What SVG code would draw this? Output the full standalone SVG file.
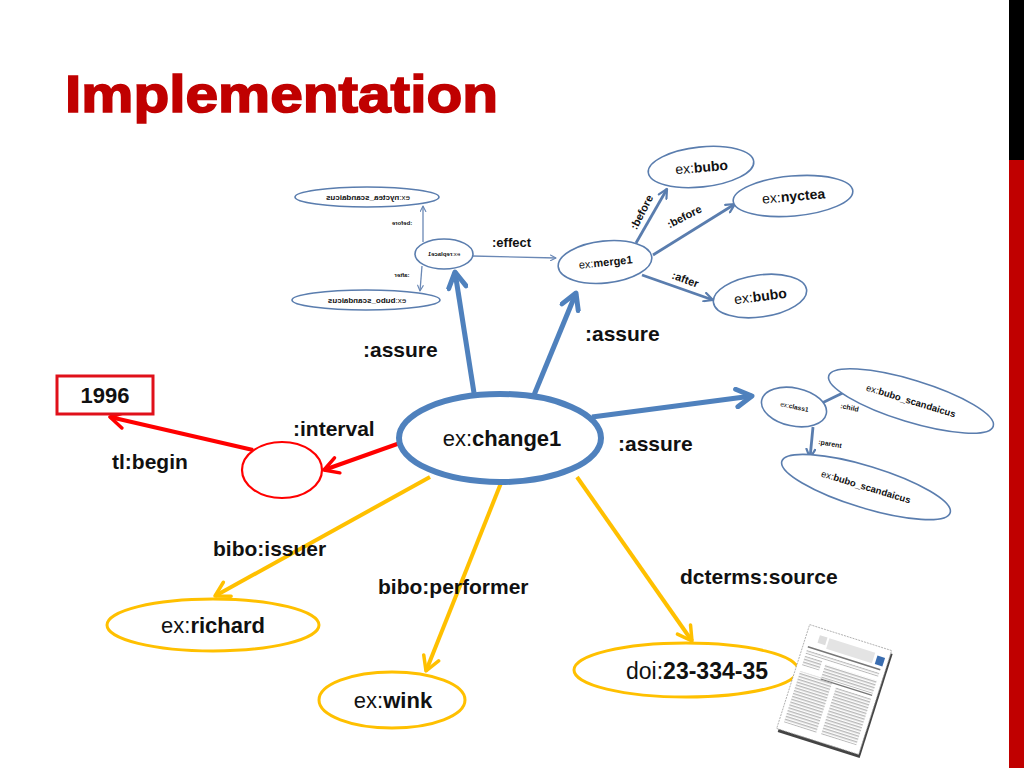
<svg xmlns="http://www.w3.org/2000/svg" width="1024" height="768" viewBox="0 0 1024 768">
<style>
.t{font-family:"Liberation Sans",Arial,sans-serif;fill:#111}
.b{font-weight:bold}
.lbl{font-family:"Liberation Sans",Arial,sans-serif;font-weight:bold;fill:#111;font-size:21px}
.sm{fill:#fff;stroke:#5a7dae;stroke-width:1.6}
.sa{fill:none;stroke:#5a7dae;stroke-width:2.8}
.ta{fill:none;stroke:#6a88b5;stroke-width:1.3}
</style>
<defs>
<marker id="mBlue" viewBox="0 0 20 20" refX="17" refY="10" markerWidth="22" markerHeight="22" markerUnits="userSpaceOnUse" orient="auto"><path d="M3,2 L17,10 L3,18" fill="none" stroke="#4F81BD" stroke-width="4.5" stroke-linecap="round" stroke-linejoin="round"/></marker>
<marker id="mRed" viewBox="0 0 20 20" refX="17" refY="10" markerWidth="20" markerHeight="20" markerUnits="userSpaceOnUse" orient="auto"><path d="M3,2 L17,10 L3,18" fill="none" stroke="#FF0000" stroke-width="3.5" stroke-linecap="round" stroke-linejoin="round"/></marker>
<marker id="mYel" viewBox="0 0 20 20" refX="17" refY="10" markerWidth="20" markerHeight="20" markerUnits="userSpaceOnUse" orient="auto"><path d="M3,2 L17,10 L3,18" fill="none" stroke="#FFC000" stroke-width="3.5" stroke-linecap="round" stroke-linejoin="round"/></marker>
<marker id="mSm" viewBox="0 0 10 10" refX="9" refY="5" markerWidth="11" markerHeight="11" markerUnits="userSpaceOnUse" orient="auto"><path d="M1,1 L9,5 L1,9" fill="none" stroke="#5a7dae" stroke-width="2" stroke-linecap="round" stroke-linejoin="round"/></marker>
<marker id="mTi" viewBox="0 0 10 10" refX="9" refY="5" markerWidth="7" markerHeight="7" markerUnits="userSpaceOnUse" orient="auto"><path d="M1,1 L9,5 L1,9" fill="none" stroke="#6a88b5" stroke-width="1.6" stroke-linecap="round" stroke-linejoin="round"/></marker>
<pattern id="txt" width="6" height="3" patternUnits="userSpaceOnUse"><rect width="6" height="1.4" fill="#b8b8b8"/></pattern>
</defs>
<rect width="1024" height="768" fill="#fff"/>
<rect x="1009" y="0" width="15" height="160" fill="#000"/>
<rect x="1009" y="160" width="15" height="608" fill="#C00000"/>
<text x="65" y="112" font-family="'Liberation Sans',Arial,sans-serif" font-weight="bold" font-size="52" fill="#C00000" stroke="#C00000" stroke-width="1.6" textLength="433" lengthAdjust="spacingAndGlyphs">Implementation</text>

<g id="connectors">
<path d="M474,393 L455,272" stroke="#4F81BD" stroke-width="5" fill="none" marker-end="url(#mBlue)"/>
<path d="M534,395 L576,293" stroke="#4F81BD" stroke-width="5" fill="none" marker-end="url(#mBlue)"/>
<path d="M592,417 L752,396" stroke="#4F81BD" stroke-width="5" fill="none" marker-end="url(#mBlue)"/>
<path d="M400,443 L324,470" stroke="#FF0000" stroke-width="4" fill="none" marker-end="url(#mRed)"/>
<path d="M253,450 L110,417" stroke="#FF0000" stroke-width="4" fill="none" marker-end="url(#mRed)"/>
<path d="M430,477 L215,596" stroke="#FFC000" stroke-width="4" fill="none" marker-end="url(#mYel)"/>
<path d="M501,483 L426,671" stroke="#FFC000" stroke-width="4" fill="none" marker-end="url(#mYel)"/>
<path d="M577,477 L692,641" stroke="#FFC000" stroke-width="4" fill="none" marker-end="url(#mYel)"/>
<!-- merge -->
<path d="M636,243 L667,189" class="sa" marker-end="url(#mSm)"/>
<path d="M653,255 L735,204" class="sa" marker-end="url(#mSm)"/>
<path d="M642,275 L713,300" class="sa" marker-end="url(#mSm)"/>
<!-- replace -->
<path d="M472,256 L556,258" class="ta" marker-end="url(#mTi)"/>
<path d="M423,242 L423,206" class="ta" marker-end="url(#mTi)"/>
<path d="M422,266 L420,291" class="ta" marker-end="url(#mTi)"/>
<!-- class -->
<path d="M822,403 L853,388" class="sa" stroke-width="2.2" marker-end="url(#mSm)"/>
<path d="M813,427 L810,458" class="sa" stroke-width="2.2" marker-end="url(#mSm)"/>
</g>

<g id="labels">
<text class="lbl" x="363" y="357">:assure</text>
<text class="lbl" x="585" y="341">:assure</text>
<text class="lbl" x="618" y="451">:assure</text>
<text class="lbl" x="293" y="436">:interval</text>
<text class="lbl" x="112" y="469">tl:begin</text>
<text class="lbl" x="213" y="556" font-size="20">bibo:issuer</text>
<text class="lbl" x="378" y="594">bibo:performer</text>
<text class="lbl" x="680" y="584" font-size="20">dcterms:source</text>
<text class="t b" x="492" y="247" font-size="13">:effect</text>
</g>

<g id="change1">
<ellipse cx="500" cy="438" rx="101" ry="44" fill="#fff" stroke="#4F81BD" stroke-width="6"/>
<text class="t" x="502" y="446" font-size="22" text-anchor="middle">ex:<tspan class="b">change1</tspan></text>
</g>
<g id="interval">
<ellipse cx="282" cy="470" rx="40" ry="28" fill="#fff" stroke="#FF0000" stroke-width="2.2"/>
</g>
<g id="year">
<rect x="57" y="376" width="96" height="38" fill="#fff" stroke="#E0101A" stroke-width="3"/>
<text class="t b" x="105" y="403" font-size="22" text-anchor="middle">1996</text>
</g>
<g id="richard">
<ellipse cx="213" cy="625" rx="106" ry="26" fill="#fff" stroke="#FFC000" stroke-width="3"/>
<text class="t" x="213" y="633" font-size="22" text-anchor="middle">ex:<tspan class="b">richard</tspan></text>
</g>
<g id="wink">
<ellipse cx="392" cy="700" rx="73" ry="28" fill="#fff" stroke="#FFC000" stroke-width="3"/>
<text class="t" x="393" y="708" font-size="22" text-anchor="middle">ex:<tspan class="b">wink</tspan></text>
</g>
<g id="doi">
<ellipse cx="686" cy="670" rx="112" ry="27" fill="#fff" stroke="#FFC000" stroke-width="3"/>
<text class="t" x="697" y="679" font-size="23" text-anchor="middle">doi:<tspan class="b">23-334-35</tspan></text>
</g>
<g id="document" transform="translate(834,690) rotate(17.6)">
<rect x="-41" y="-52" width="86" height="109" fill="#444"/>
<rect x="-43" y="-55" width="86" height="109" fill="#fff" stroke="#999" stroke-width="0.7" stroke-dasharray="2,1"/>
<rect x="-30" y="-48" width="8" height="8" fill="#ddd"/>
<rect x="-20" y="-48" width="48" height="11" fill="#e4e4e4"/>
<rect x="31" y="-46" width="8" height="9" fill="#3a6db0"/>
<rect x="-38" y="-34" width="76" height="1.5" fill="#777"/>
<rect x="-38" y="-30" width="76" height="4" fill="url(#txt)"/>
<rect x="-38" y="-24" width="18" height="10" fill="url(#txt)"/>
<rect x="-16" y="-22" width="54" height="14" fill="url(#txt)"/>
<rect x="-16" y="-7" width="54" height="1.2" fill="#777"/>
<rect x="-38" y="-8" width="34" height="54" fill="url(#txt)"/>
<rect x="1" y="-3" width="37" height="49" fill="url(#txt)"/>
</g>

<g id="replace1">
<ellipse cx="444" cy="254" rx="29" ry="15" class="sm" stroke-width="1.2"/>
<text class="t" font-size="6" text-anchor="middle" transform="translate(444,256) scale(-1,1)">ex:<tspan class="b">replace1</tspan></text>
</g>
<g id="nyctea_scandaicus_m">
<ellipse cx="367" cy="197" rx="72" ry="10" class="sm" stroke-width="1.2"/>
<text class="t" font-size="8" text-anchor="middle" transform="translate(368,200) scale(-1,1)">ex:<tspan class="b">nyctea_scandaicus</tspan></text>
</g>
<g id="bubo_scandaicus_m">
<ellipse cx="366" cy="300" rx="74" ry="10" class="sm" stroke-width="1.2"/>
<text class="t" font-size="8" text-anchor="middle" transform="translate(367,303) scale(-1,1)">ex:<tspan class="b">bubo_scandaicus</tspan></text>
</g>
<text class="t b" font-size="6" text-anchor="middle" transform="translate(402,225) scale(-1,1)">:before</text>
<text class="t b" font-size="6" text-anchor="middle" transform="translate(402,277) scale(-1,1)">:after</text>

<g id="merge1">
<ellipse cx="605" cy="262" rx="47" ry="21" class="sm" stroke-width="2" transform="rotate(-6 605 262)"/>
<text class="t" font-size="11" text-anchor="middle" transform="translate(606,266) rotate(-6)">ex:<tspan class="b">merge1</tspan></text>
</g>
<g id="bubo1">
<ellipse cx="701" cy="167" rx="53" ry="20" class="sm" stroke-width="2" transform="rotate(-6 701 167)"/>
<text class="t" font-size="14" text-anchor="middle" transform="translate(702,172) rotate(-5)">ex:<tspan class="b">bubo</tspan></text>
</g>
<g id="nyctea">
<ellipse cx="793" cy="196" rx="60" ry="20" class="sm" stroke-width="2" transform="rotate(-5 793 196)"/>
<text class="t" font-size="14" text-anchor="middle" transform="translate(794,201) rotate(-5)">ex:<tspan class="b">nyctea</tspan></text>
</g>
<g id="bubo2">
<ellipse cx="760" cy="296" rx="47" ry="21" class="sm" stroke-width="2" transform="rotate(-8 760 296)"/>
<text class="t" font-size="14" text-anchor="middle" transform="translate(761,301) rotate(-7)">ex:<tspan class="b">bubo</tspan></text>
</g>
<text class="t b" font-size="11" text-anchor="middle" transform="translate(645,214) rotate(-63)">:before</text>
<text class="t b" font-size="11" text-anchor="middle" transform="translate(686,220) rotate(-27)">:before</text>
<text class="t b" font-size="11" text-anchor="middle" transform="translate(684,283) rotate(20)">:after</text>

<g id="class1">
<ellipse cx="794" cy="407" rx="33" ry="19" class="sm" stroke-width="1.4" transform="rotate(12 794 407)"/>
<text class="t" font-size="6.5" text-anchor="middle" transform="translate(794,409) rotate(12)">ex:<tspan class="b">class1</tspan></text>
</g>
<g id="bubo_scandaicus_child">
<ellipse cx="911" cy="401" rx="86" ry="21" class="sm" stroke-width="1.4" transform="rotate(17 911 401)"/>
<text class="t" font-size="9.5" text-anchor="middle" transform="translate(910,404) rotate(17)">ex:<tspan class="b">bubo_scandaicus</tspan></text>
</g>
<g id="bubo_scandaicus_parent">
<ellipse cx="866" cy="487" rx="88" ry="21" class="sm" stroke-width="1.4" transform="rotate(17 866 487)"/>
<text class="t" font-size="9.5" text-anchor="middle" transform="translate(865,490) rotate(17)">ex:<tspan class="b">bubo_scandaicus</tspan></text>
</g>
<text class="t b" font-size="7" transform="translate(840,408) rotate(12)">:child</text>
<text class="t b" font-size="7" transform="translate(818,444) rotate(10)">:parent</text>
</svg>
